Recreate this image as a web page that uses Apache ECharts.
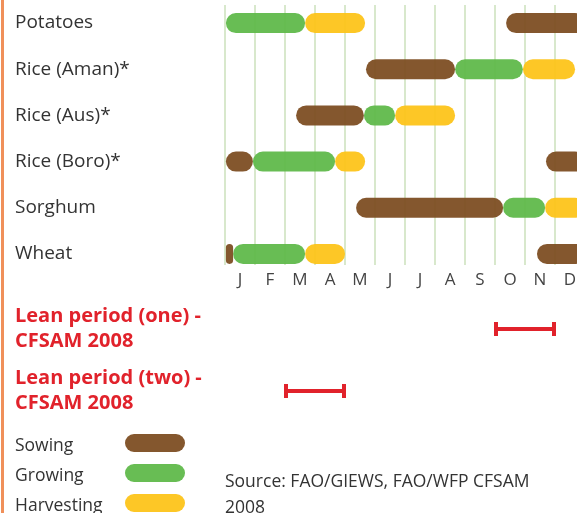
<!DOCTYPE html>
<html>
<head>
<meta charset="utf-8">
<script src="https://cdn.jsdelivr.net/npm/echarts@6/dist/echarts.min.js"></script>
<style>
  html, body { margin: 0; padding: 0; background: #fff; }
  #chart { width: 577px; height: 513px; }
</style>
</head>
<body>
<div id="chart"></div>
<script>
// crop calendar, month units: 0 = start of Jan, 12 = end of Dec
const months = ['J', 'F', 'M', 'A', 'M', 'J', 'J', 'A', 'S', 'O', 'N', 'D']
const crops = ['Potatoes', 'Rice (Aman)*', 'Rice (Aus)*', 'Rice (Boro)*', 'Sorghum', 'Wheat']

// [crop index, start, end]
const sowing = [
  [0, 9.37, 12], [1, 4.7, 7.67], [2, 2.37, 4.63], [3, 0.03, 0.93],
  [3, 10.7, 12], [4, 4.37, 9.27], [5, 0.03, 0.27], [5, 10.4, 12]
]
const growing = [
  [0, 0.03, 2.67], [1, 7.67, 9.93], [2, 4.63, 5.67], [3, 0.93, 3.67],
  [4, 9.27, 10.67], [5, 0.27, 2.67]
]
const harvesting = [
  [0, 2.67, 4.67], [1, 9.93, 11.67], [2, 5.67, 7.67], [3, 3.67, 4.67],
  [4, 10.67, 12], [5, 2.67, 4.0]
]

const leanLabels = ['Lean period (one) -\nCFSAM 2008', 'Lean period (two) -\nCFSAM 2008']
const leanRanges = [[0, 9, 11], [1, 2, 4]]

const COLORS = { sowing: '#7b4a1e', growing: '#5db847', harvesting: '#fdc315', lean: '#e1222b' }
const FONT = 'Open Sans'

const chart = echarts.init(document.getElementById('chart'))

function renderCapsule(params, api) {
  const a = api.coord([api.value(1), api.value(0)])
  const b = api.coord([api.value(2), api.value(0)])
  const h = 20
  const w = b[0] - a[0]
  return {
    type: 'rect',
    shape: { x: a[0], y: a[1] - h / 2, width: w, height: h, r: Math.min(h / 2, w / 2) },
    style: api.style()
  }
}

function renderLean(params, api) {
  const a = api.coord([api.value(1), api.value(0)])
  const b = api.coord([api.value(2), api.value(0)])
  const color = COLORS.lean
  return {
    type: 'group',
    children: [
      { type: 'rect', shape: { x: a[0], y: a[1] - 2, width: b[0] - a[0], height: 4 }, style: { fill: color } },
      { type: 'rect', shape: { x: a[0] - 1, y: a[1] - 7, width: 4, height: 14 }, style: { fill: color } },
      { type: 'rect', shape: { x: b[0] - 3, y: a[1] - 7, width: 4, height: 14 }, style: { fill: color } }
    ]
  }
}

const capsuleIcon = 'path://M9,0 H51 A9,9 0 0 1 51,18 H9 A9,9 0 0 1 9,0 Z'

function phaseSeries(name, data, color) {
  return {
    name: name,
    type: 'custom',
    xAxisIndex: 2,
    yAxisIndex: 1,
    renderItem: renderCapsule,
    itemStyle: { color: color, opacity: 0.93 },
    encode: { x: [1, 2], y: 0 },
    data: data
  }
}

// the plot runs past the right edge of the picture (December is cut off)
const gridBase = { left: 225, width: 360, outerBoundsMode: 'none', containLabel: false }

const option = {
  animation: false,
  textStyle: { fontFamily: FONT },
  title: {
    text: 'Source: FAO/GIEWS, FAO/WFP CFSAM\n2008',
    left: 225,
    top: 469,
    padding: 0,
    textStyle: { fontFamily: FONT, fontSize: 17.5, fontWeight: 'normal', color: '#333', lineHeight: 26 }
  },
  graphic: [
    { type: 'rect', left: 1, top: 0, shape: { width: 3, height: 513 }, style: { fill: '#f0905a' } }
  ],
  legend: {
    orient: 'vertical',
    left: 15,
    top: 431,
    height: 120,
    padding: 0,
    align: 'right',
    itemWidth: 60,
    itemHeight: 18,
    itemGap: 6,
    icon: capsuleIcon,
    formatter: (name) => '{t|' + name + '}',
    textStyle: {
      fontFamily: FONT,
      rich: {
        t: {
          width: 105, lineHeight: 12, padding: [6, 0, 0, 0], align: 'left',
          fontSize: 17.5, color: '#333', fontFamily: FONT
        }
      }
    },
    data: ['Sowing', 'Growing', 'Harvesting']
  },
  grid: [
    // month grid lines + labels
    Object.assign({ top: 5, height: 260 }, gridBase),
    // crop rows
    Object.assign({ top: 0, height: 277 }, gridBase),
    // lean periods
    Object.assign({ top: 298, height: 124 }, gridBase)
  ],
  xAxis: [
    {
      gridIndex: 0, type: 'value', min: 0, max: 12, interval: 1,
      axisLine: { show: false }, axisTick: { show: false }, axisLabel: { show: false },
      splitLine: { show: true, lineStyle: { color: '#d8e8cc', width: 2 } }
    },
    {
      gridIndex: 0, type: 'category', data: months, position: 'bottom', boundaryGap: true,
      axisLine: { show: false }, axisTick: { show: false }, splitLine: { show: false },
      axisLabel: { color: '#444', fontSize: 17, margin: 7, fontFamily: FONT, interval: 0 }
    },
    { gridIndex: 1, type: 'value', min: 0, max: 12, show: false },
    { gridIndex: 2, type: 'value', min: 0, max: 12, show: false }
  ],
  yAxis: [
    { gridIndex: 0, type: 'value', min: 0, max: 1, show: false },
    {
      gridIndex: 1, type: 'category', data: crops, inverse: true,
      axisLine: { show: false }, axisTick: { show: false }, splitLine: { show: false },
      axisLabel: { align: 'left', margin: 210, color: '#333', fontSize: 19, fontFamily: FONT }
    },
    {
      gridIndex: 2, type: 'category', data: leanLabels, inverse: true,
      axisLine: { show: false }, axisTick: { show: false }, splitLine: { show: false },
      axisLabel: {
        align: 'left', margin: 210, color: COLORS.lean, fontSize: 20,
        fontWeight: 'bold', lineHeight: 25, fontFamily: FONT
      }
    }
  ],
  series: [
    phaseSeries('Sowing', sowing, COLORS.sowing),
    phaseSeries('Growing', growing, COLORS.growing),
    phaseSeries('Harvesting', harvesting, COLORS.harvesting),
    {
      name: 'Lean period',
      type: 'custom',
      xAxisIndex: 3,
      yAxisIndex: 2,
      renderItem: renderLean,
      encode: { x: [1, 2], y: 0 },
      data: leanRanges
    }
  ]
}

chart.setOption(option)
window.addEventListener('resize', () => chart.resize())
</script>
</body>
</html>
